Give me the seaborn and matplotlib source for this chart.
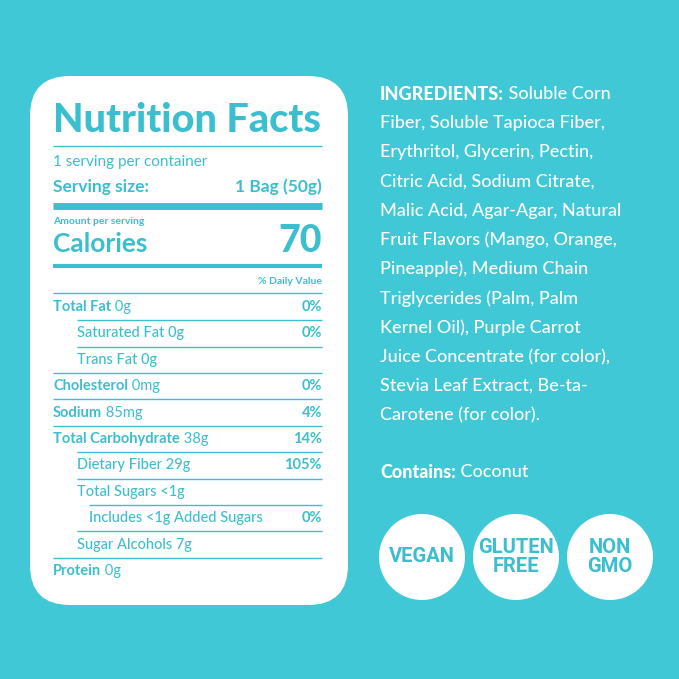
import matplotlib
matplotlib.use("Agg")
import matplotlib.pyplot as plt
import seaborn as sns
from matplotlib.patches import FancyBboxPatch, Circle

sns.set_theme(style="white")
plt.rcParams['font.family'] = ['Lato', 'DejaVu Sans']

BG = "#40c8d6"
TEAL = "#3bbfcf"

nutrients = ["Total Fat", "Saturated Fat", "Trans Fat", "Cholesterol", "Sodium",
             "Total Carbohydrate", "Dietary Fiber", "Total Sugars",
             "Includes <1g Added Sugars", "Sugar Alcohols", "Protein"]
amounts = ["0g", "0g", "0g", "0mg", "85mg", "38g", "29g", "<1g", "", "7g", "0g"]
dv = ["0%", "0%", "", "0%", "4%", "14%", "105%", "", "0%", "", ""]
indent = [0, 1, 1, 0, 0, 0, 1, 1, 2, 1, 0]
ingredients = ["Soluble Corn", "Fiber, Soluble Tapioca Fiber,", "Erythritol, Glycerin, Pectin,",
               "Citric Acid, Sodium Citrate,", "Malic Acid, Agar-Agar, Natural",
               "Fruit Flavors (Mango, Orange,", "Pineapple), Medium Chain",
               "Triglycerides (Palm, Palm", "Kernel Oil), Purple Carrot",
               "Juice Concentrate (for color),", "Stevia Leaf Extract, Be-ta-",
               "Carotene (for color)."]
badges = ["VEGAN", "GLUTEN\nFREE", "NON\nGMO"]

fig = plt.figure(figsize=(6.79, 6.79), dpi=100)
fig.patch.set_facecolor(BG)
ax = fig.add_axes([0, 0, 1, 1])
ax.set_xlim(0, 679); ax.set_ylim(679, 0); ax.axis("off")

ax.add_patch(FancyBboxPatch((30, 76), 318, 529, boxstyle="round,pad=0,rounding_size=40",
                            fc="white", ec="none"))
L, R = 53, 322
def hline(y, lw, x0=L):
    ax.plot([x0, R], [y, y], color=TEAL, lw=lw, solid_capstyle="butt")

ax.text(L, 121, "Nutrition Facts", color=TEAL, fontsize=28.5, fontweight="black", va="center")
hline(146, 1)
ax.text(L, 162, "1 serving per container", color=TEAL, fontsize=11, va="center")
ax.text(L, 187, "Serving size:", color=TEAL, fontsize=12.5, fontweight="bold", va="center")
ax.text(R, 187, "1 Bag (50g)", color=TEAL, fontsize=12.5, fontweight="bold", va="center", ha="right")
hline(206, 5)
ax.text(L, 222, "Amount per serving", color=TEAL, fontsize=7.5, fontweight="bold", va="center")
ax.text(L, 244, "Calories", color=TEAL, fontsize=19, fontweight="bold", va="center")
ax.text(R, 241, "70", color=TEAL, fontsize=27, fontweight="black", va="center", ha="right")
hline(266, 3)
ax.text(R, 281, "% Daily Value", color=TEAL, fontsize=7.5, fontweight="bold", va="center", ha="right")
hline(293, 1)

y0, step = 307, 26.4
for i, (n, a, d, ind) in enumerate(zip(nutrients, amounts, dv, indent)):
    y = y0 + i * step
    x = L + [0, 24, 36][ind]
    if ind == 0:
        t = ax.text(x, y, n, color=TEAL, fontsize=10.5, fontweight="bold", va="center")
        if a:
            ax.annotate(" " + a, xy=(1, 0.5), xycoords=t, color=TEAL, fontsize=10.5, va="center")
    else:
        ax.text(x, y, n + (" " + a if a else ""), color=TEAL, fontsize=10.5,
                fontweight="medium", va="center")
    if d:
        ax.text(R, y, d, color=TEAL, fontsize=10.5, fontweight="bold", va="center", ha="right")
    if i < len(nutrients) - 1:
        nxt = indent[i + 1]
        hline(y + step / 2, 1, L + [0, 24, 36][nxt])

FS = 13
t = ax.text(380, 94, "INGREDIENTS:", color="white", fontsize=FS, fontweight="black", va="center")
ax.annotate(" " + ingredients[0], xy=(1, 0.5), xycoords=t, color="white", fontsize=FS,
            fontweight="medium", va="center")
for i, line in enumerate(ingredients[1:], 1):
    ax.text(380, 94 + i * 29.2, line, color="white", fontsize=FS, fontweight="medium", va="center")
t = ax.text(380, 472, "Contains:", color="white", fontsize=FS, fontweight="black", va="center")
ax.annotate(" Coconut", xy=(1, 0.5), xycoords=t, color="white", fontsize=FS,
            fontweight="medium", va="center")

for cx, b in zip([422, 516, 610], badges):
    ax.add_patch(Circle((cx, 557), 43, fc="white", ec="none"))
    ax.text(cx, 557, b, color=TEAL, fontsize=14.5, fontweight="bold", ha="center", va="center",
            family=["Roboto", "DejaVu Sans"], linespacing=1.05)

fig.savefig("out.png", dpi=100, facecolor=BG)
